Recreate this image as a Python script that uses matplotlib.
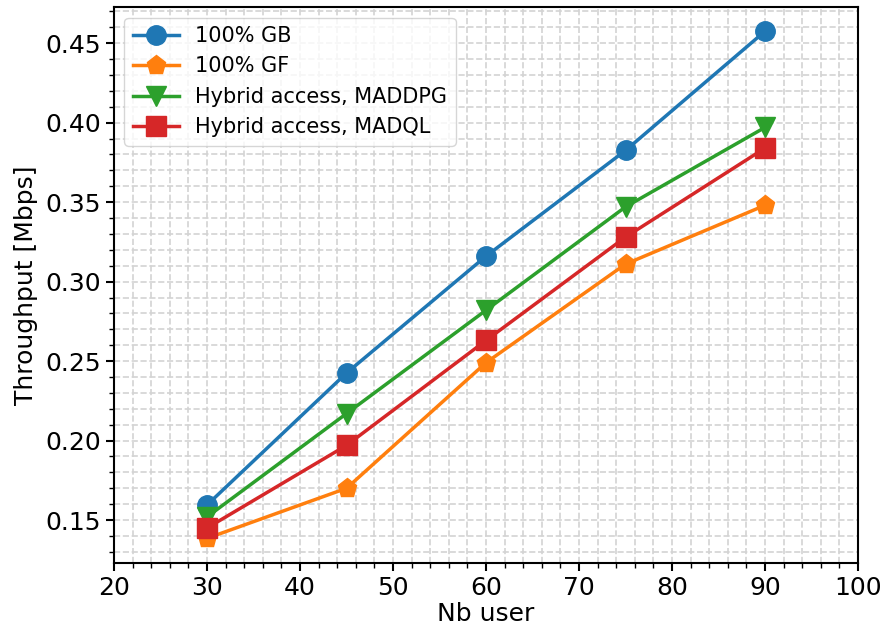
import numpy as np
import matplotlib.pyplot as plt
from matplotlib.ticker import MultipleLocator

nb_user = [30, 45, 60, 75, 90]
gb = [0.1595, 0.2425, 0.316, 0.3825, 0.4575]
gf = [0.1385, 0.170, 0.249, 0.311, 0.348]
maddpg = [0.152, 0.217, 0.282, 0.347, 0.397]
madql = [0.145, 0.197, 0.263, 0.328, 0.384]

fig = plt.figure(figsize=(8.84, 6.33), dpi=100)
ax = fig.add_axes([0.129, 0.1106, 0.8416, 0.878])

ax.plot(nb_user, gb, marker='o', color='tab:blue', lw=2.5, ms=14, label='100% GB')
ax.plot(nb_user, gf, marker='p', color='tab:orange', lw=2.5, ms=14, label='100% GF')
ax.plot(nb_user, maddpg, marker='v', color='tab:green', lw=2.5, ms=14, label='Hybrid access, MADDPG')
ax.plot(nb_user, madql, marker='s', color='tab:red', lw=2.5, ms=14, label='Hybrid access, MADQL')

ax.set_xlim(20, 100)
ax.set_ylim(0.123, 0.4726)
ax.xaxis.set_major_locator(MultipleLocator(10))
ax.xaxis.set_minor_locator(MultipleLocator(2))
ax.yaxis.set_major_locator(MultipleLocator(0.05))
ax.yaxis.set_minor_locator(MultipleLocator(0.01))
ax.grid(which='both', linestyle='--', color='lightgray', lw=1.2)
ax.set_axisbelow(True)
for s in ax.spines.values():
    s.set_linewidth(1.5)
ax.tick_params(which='major', labelsize=18, length=6, width=1.5)
ax.tick_params(which='minor', length=3.5, width=1)

ax.set_xlabel('Nb user', fontsize=18, labelpad=1)
ax.set_ylabel('Throughput [Mbps]', fontsize=18, labelpad=5)
ax.legend(loc='upper left', fontsize=15, borderaxespad=0.5, handlelength=2.2)

plt.savefig('out.png', dpi=100)
